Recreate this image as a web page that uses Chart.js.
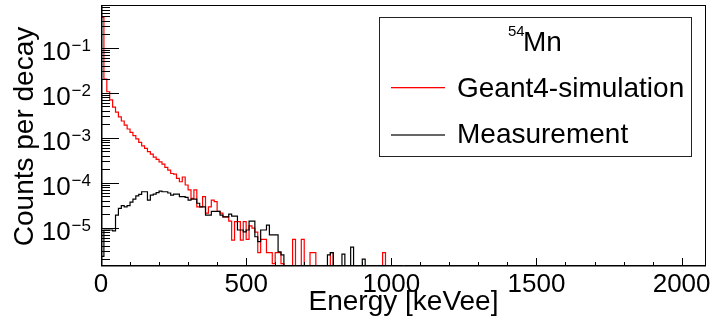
<!DOCTYPE html>
<html><head><meta charset="utf-8">
<script src="https://cdn.jsdelivr.net/npm/chart.js@4.4.1/dist/chart.umd.min.js"></script>
<style>html,body{margin:0;padding:0;background:#fff;}canvas{display:block;}</style>
</head><body>
<canvas id="c" width="712" height="326"></canvas>
<script>
// ---- data (10 keV bins starting at 0 keV) ----
const binWidth = 10;
const simulation = [
  0.47, 0.020, 0.0105, 0.0069, 0.0048, 0.0037, 0.0029, 0.00235, 0.00191, 0.00156,
  0.00132, 0.00111, 0.00094, 0.00079, 0.00066, 0.00058, 0.00049, 0.00043, 0.00037, 0.00033,
  0.00029, 0.00026, 0.00022, 0.00019, 1.6e-4, 1.55e-4, 1.25e-4, 1.05e-4, 1.34e-4, 8.9e-5,
  6.9e-5, 4.5e-5, 6.9e-5, 2.9e-5, 2.9e-5, 4.9e-5, 2.1e-5, 2.9e-5, 4.1e-5, 3.8e-5,
  2.3e-5, 2.1e-5, 1.75e-5, 1.75e-5, 1.4e-5, 5.3e-6, 1.36e-5, 1.36e-5, 5.3e-6, 1.36e-5,
  5.5e-6, 1.1e-5, 9.8e-6, 8e-6, 2.8e-6, 5.5e-6, 5.5e-6, 2.8e-6, 2.8e-6, 1.6e-6,
  2.8e-6, 2.8e-6, 1.6e-6, 0, 0, 0, 5.5e-6, 0, 0, 5.5e-6,
  0, 0, 2.8e-6, 2.8e-6, 0, 0, 0, 0, 0, 2.8e-6,
  0, 0, 0, 0, 0, 0, 0, 0, 0, 0,
  0, 0, 0, 0, 0, 0, 0, 2.8e-6, 0, 0
];
const measurement = [
  2.3e-6, 8.9e-6, 8.9e-6, 8.9e-6, 8.5e-6, 1.9e-5, 2.7e-5, 3.1e-5, 2.9e-5, 3.1e-5,
  3.7e-5, 4.3e-5, 5.1e-5, 5.5e-5, 6.3e-5, 6.3e-5, 4.1e-5, 5.3e-5, 5.6e-5, 6.0e-5,
  6.5e-5, 6.3e-5, 6.3e-5, 5.9e-5, 5.3e-5, 5.6e-5, 5.6e-5, 4.9e-5, 4.9e-5, 4.7e-5,
  4.1e-5, 4.3e-5, 4.3e-5, 3.5e-5, 2.9e-5, 2.9e-5, 1.9e-5, 1.9e-5, 2.3e-5, 2.3e-5,
  2.3e-5, 1.9e-5, 1.75e-5, 1.75e-5, 2.0e-5, 1.8e-5, 1.8e-5, 8.9e-6, 8.9e-6, 8.1e-6,
  8.9e-6, 1.4e-5, 1.4e-5, 6.3e-6, 4.9e-6, 8.9e-6, 8.9e-6, 1.14e-5, 6.9e-6, 6.9e-6,
  6.9e-6, 2.9e-6, 2.5e-6, 0, 0, 0, 0, 0, 0, 0,
  0, 0, 0, 0, 0, 0, 0, 0, 2.5e-6, 2.8e-6,
  0, 0, 0, 2.6e-6, 0, 0, 3.7e-6, 0, 0, 0,
  2.0e-6, 0, 0, 0, 0, 0, 0, 0, 0, 0
];
const xTickLabels = [0, 500, 1000, 1500, 2000];
const xMinorStep = 100;
const yDecades = [-1, -2, -3, -4, -5];
const xRange = [0, 2084];
const yRange = [1.41e-6, 0.889];
const seriesNames = ['Geant4-simulation', 'Measurement'];
const seriesColors = ['rgb(255,0,0)', 'rgb(0,0,0)'];
const legendHeader = ['54', 'Mn'];
const xTitle = 'Energy [keVee]';
const yTitle = 'Counts per decay';

const FONT = '"Liberation Sans", Arial, Helvetica, sans-serif';
const FLOOR = 1e-8;

function histPoints(vals) {
  const pts = [{x: 0, y: FLOOR}];
  vals.forEach((v, i) => pts.push({x: i * binWidth, y: v > 0 ? v : FLOOR}));
  const end = vals.length * binWidth;
  pts.push({x: end, y: vals[vals.length - 1] > 0 ? vals[vals.length - 1] : FLOOR});
  pts.push({x: end, y: FLOOR});
  pts.push({x: xRange[1], y: FLOOR});
  return pts;
}

const decor = {
  id: 'rootDecor',
  afterDraw(chart) {
    const ctx = chart.ctx;
    const a = chart.chartArea;
    const xs = chart.scales.x, ys = chart.scales.y;
    ctx.save();
    ctx.strokeStyle = '#000';
    ctx.fillStyle = '#000';
    ctx.lineWidth = 1;
    // frame
    ctx.strokeRect(Math.round(a.left) + 0.5, Math.round(a.top) + 0.5,
                   Math.round(a.right - a.left) - 1, Math.round(a.bottom - a.top) - 0.5);
    ctx.beginPath();
    ctx.moveTo(a.left, a.bottom - 0.5); ctx.lineTo(a.right, a.bottom - 0.5);
    ctx.moveTo(a.left + 1, a.top); ctx.lineTo(a.left + 1, a.bottom);
    ctx.stroke();
    // x ticks
    ctx.beginPath();
    for (let v = xRange[0]; v <= xRange[1]; v += xMinorStep) {
      const px = Math.round(xs.getPixelForValue(v)) + 0.5;
      const major = xTickLabels.includes(v);
      const len = major ? 8 : 4;
      ctx.moveTo(px, a.bottom); ctx.lineTo(px, a.bottom - len);
    }
    ctx.stroke();
    // y ticks (log)
    ctx.beginPath();
    for (let d = -7; d <= 0; d++) {
      for (let k = 1; k <= 9; k++) {
        const v = k * Math.pow(10, d);
        if (v < yRange[0] || v > yRange[1]) continue;
        const py = Math.round(ys.getPixelForValue(v)) + 0.5;
        const len = k === 1 ? 18 : 9;
        ctx.moveTo(a.left, py); ctx.lineTo(a.left + len, py);
      }
    }
    ctx.stroke();
    // x tick labels
    ctx.font = '26px ' + FONT;
    ctx.textAlign = 'center';
    ctx.textBaseline = 'alphabetic';
    xTickLabels.forEach(v => {
      ctx.fillText(String(v), xs.getPixelForValue(v), a.bottom + 25.7);
    });
    // y tick labels 10^d
    ctx.textAlign = 'left';
    yDecades.forEach(d => {
      const py = ys.getPixelForValue(Math.pow(10, d));
      const exp = '\u2212' + Math.abs(d);
      ctx.font = '17px ' + FONT;
      const wE = ctx.measureText(exp).width;
      ctx.font = '26px ' + FONT;
      const w10 = ctx.measureText('10').width;
      const x0 = 91 - wE - w10 - 1;
      ctx.fillText('10', x0, py + 12.5);
      ctx.font = '17px ' + FONT;
      ctx.fillText(exp, x0 + w10 + 1, py + 3);
    });
    // axis titles
    ctx.font = '28px ' + FONT;
    ctx.textAlign = 'center';
    ctx.fillText(xTitle, (a.left + a.right) / 2, 310);
    ctx.save();
    ctx.translate(33, (a.top + a.bottom) / 2 + 1);
    ctx.rotate(-Math.PI / 2);
    ctx.fillText(yTitle, 0, 0);
    ctx.restore();
    // legend
    ctx.strokeStyle = '#222';
    ctx.strokeRect(379.5, 17.5, 312, 139);
    ctx.textAlign = 'left';
    ctx.font = '15px ' + FONT;
    ctx.fillText(legendHeader[0], 508, 36);
    ctx.font = '28px ' + FONT;
    ctx.fillText(legendHeader[1], 523, 50.7);
    const rows = [{y: 87, ty: 96.7}, {y: 134, ty: 142.7}];
    seriesNames.forEach((name, i) => {
      ctx.fillStyle = seriesColors[i];
      ctx.globalAlpha = i === 1 ? 0.6 : 1;
      ctx.fillRect(391, rows[i].y, 54, i === 1 ? 2 : 1.3);
      ctx.globalAlpha = 1;
      ctx.fillStyle = '#000';
      ctx.fillText(name, 457, rows[i].ty);
    });
    ctx.restore();
  }
};

new Chart(document.getElementById('c'), {
  type: 'line',
  data: {
    datasets: [
      { label: seriesNames[1], data: histPoints(measurement), borderColor: seriesColors[1],
        borderWidth: 1.2, stepped: true, pointRadius: 0, fill: false, order: 1 },
      { label: seriesNames[0], data: histPoints(simulation), borderColor: seriesColors[0],
        borderWidth: 1.2, stepped: true, pointRadius: 0, fill: false, order: 2 }
    ]
  },
  options: {
    responsive: false,
    animation: false,
    devicePixelRatio: 1,
    layout: { padding: { left: 101, right: 6, top: 5, bottom: 60 } },
    plugins: { legend: { display: false }, tooltip: { enabled: false } },
    scales: {
      x: { type: 'linear', min: xRange[0], max: xRange[1], display: false },
      y: { type: 'logarithmic', min: yRange[0], max: yRange[1], display: false }
    }
  },
  plugins: [decor]
});
</script>
</body></html>
